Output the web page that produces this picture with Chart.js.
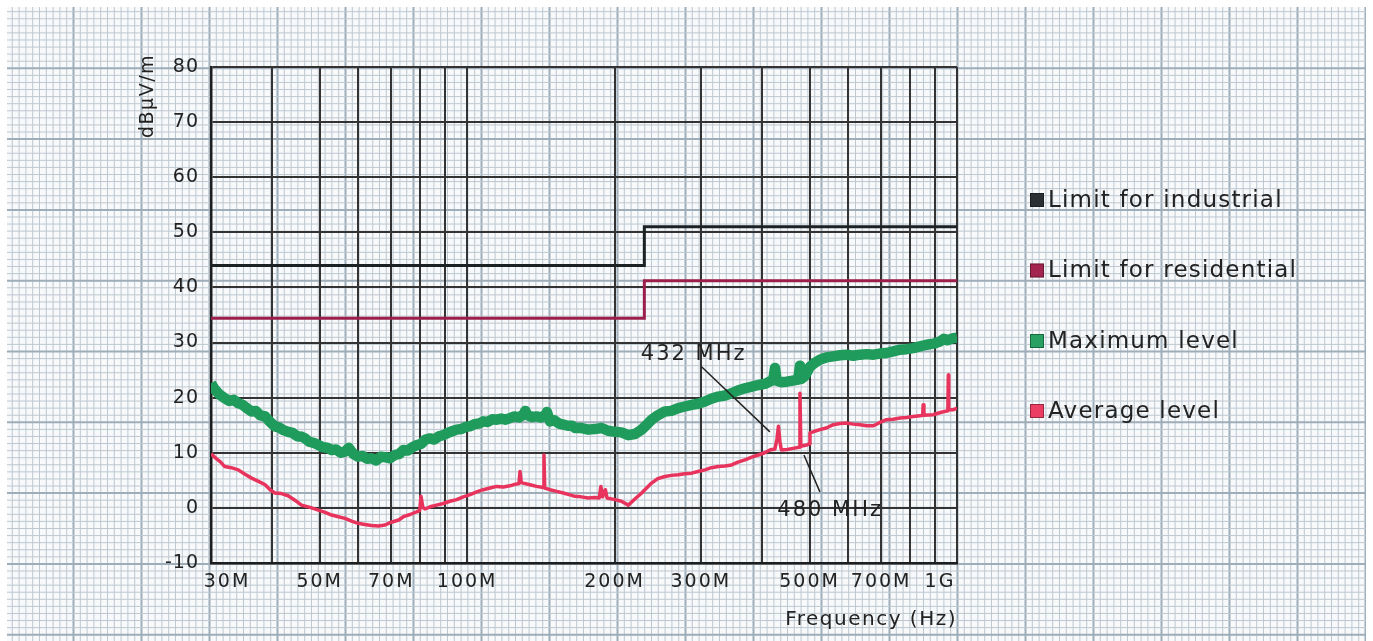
<!DOCTYPE html>
<html>
<head>
<meta charset="utf-8">
<script src="https://cdn.jsdelivr.net/npm/chart.js@4/dist/chart.umd.min.js"></script>
<style>
  html, body { margin: 0; padding: 0; background: #fff; }
  #wrap { width: 1373px; height: 641px; position: relative; }
</style>
</head>
<body>
<div id="wrap"><canvas id="emcChart"></canvas></div>
<script>
// Axis ticks
const xGridValues = [30, 40, 50, 60, 70, 80, 90, 100, 200, 300, 400, 500, 600, 700, 800, 900, 1000];
const xTickValues = [30, 50, 70, 100, 200, 300, 500, 700, 1000];
const xTickLabels = ['30M', '50M', '70M', '100M', '200M', '300M', '500M', '700M', '1G'];
const yTickValues = [-10, 0, 10, 20, 30, 40, 50, 60, 70, 80];

// Limit lines (MHz, dBµV/m)
const limitFreq = [30, 230, 230, 1000];
const industrialLimit = [44, 44, 51, 51];
const residentialLimit = [34.4, 34.4, 41.2, 41.2];

// Maximum level trace
const maxFreq = [30, 30.6, 31.2, 32.0, 32.7, 33.4, 34.1, 34.8, 35.5, 36.3, 37.0, 37.8, 38.7, 39.6, 40.5, 41.3, 42.2, 43.1, 44.0, 45.0,
  46.0, 46.7, 47.6, 48.6, 49.7, 50.8, 51.8, 52.9, 54.0, 55.2, 56.3, 57.3, 58.6, 59.9, 61.2, 62.5, 63.8, 65.2, 66.6, 68.0,
  69.6, 71.2, 72.7, 74.1, 75.7, 77.3, 78.9, 80.5, 82.2, 84.0, 85.7, 87.6, 89.4, 91.3, 93.2, 95.2, 97.3, 99.3, 101.4, 103.5,
  105.7, 107.9, 110.3, 112.6, 114.9, 117.4, 119.8, 122.3, 124.9, 127.6, 130.2, 131.5, 132.8, 135.7, 138.6, 141.5, 144.6, 145.5, 147.6, 150.7,
  154.0, 157.2, 160.5, 163.9, 166.0, 170.5, 176.8, 182.0, 188.2, 194.0, 200.4, 206.5, 213.3, 220.0, 227.1, 232.0, 238.0, 245.0, 253.4, 261.0,
  269.8, 278.0, 287.3, 296.0, 305.9, 315.0, 325.6, 336.0, 346.7, 357.0, 369.1, 381.0, 393.0, 405.0, 414.0, 421.6, 425.0, 428.5, 437.0, 449.0,
  462.0, 474.0, 478.0, 481.0, 490.0, 501.0, 512.0, 525.0, 541.0, 559.0, 577.0, 595.0, 614.0, 634.0, 654.0, 675.0, 696.0, 718.0, 741.0, 765.0,
  789.0, 814.0, 840.0, 867.0, 895.0, 923.0, 940.0, 955.0, 982.0, 1000.0];
const maxLevel = [22.6, 21.4, 20.6, 19.9, 19.4, 19.6, 19.0, 18.7, 18.1, 17.5, 17.6, 16.8, 16.6, 15.6, 14.8, 14.6, 14.1, 13.8, 13.6, 13.0,
  12.9, 12.6, 12.0, 11.8, 11.4, 11.0, 10.9, 10.5, 10.6, 10.0, 10.2, 10.9, 9.8, 9.3, 9.4, 8.9, 9.0, 8.6, 9.3, 9.2,
  9.0, 9.6, 9.8, 10.5, 10.4, 11.0, 11.4, 11.6, 12.4, 12.6, 12.4, 13.0, 13.2, 13.6, 13.9, 14.2, 14.3, 14.7, 14.8, 15.2,
  15.3, 15.7, 15.6, 16.1, 16.0, 16.2, 16.0, 16.3, 16.6, 16.4, 16.9, 17.6, 16.8, 16.5, 16.6, 16.4, 16.9, 17.4, 15.7, 15.9,
  15.3, 15.1, 14.9, 14.9, 14.5, 14.5, 14.2, 14.3, 14.5, 14.0, 13.8, 13.7, 13.2, 13.4, 14.2, 15.0, 16.0, 16.8, 17.5, 17.6,
  18.1, 18.4, 18.7, 18.9, 19.3, 19.8, 20.2, 20.4, 20.8, 21.3, 21.7, 22.0, 22.3, 22.5, 22.9, 23.2, 25.4, 23.1, 22.8, 22.9,
  23.1, 23.3, 25.8, 23.4, 24.0, 25.6, 26.3, 26.9, 27.3, 27.5, 27.7, 27.8, 27.6, 27.8, 27.9, 27.8, 28.0, 28.1, 28.4, 28.7,
  28.8, 29.0, 29.3, 29.6, 29.8, 30.2, 30.7, 30.4, 30.8, 30.9];

// Average level trace
const avgFreq = [30, 30.8, 31.4, 32.0, 33.0, 34.1, 35.2, 36.3, 37.5, 38.7, 39.6, 40.5, 41.8, 43.1, 44.5, 45.9, 47.8, 49.7, 51.3, 52.9,
  54.6, 56.3, 58.1, 59.9, 61.8, 63.8, 65.9, 68.0, 70.0, 72.5, 74.1, 76.5, 78.9, 80.0, 80.5, 81.2, 82.0, 84.0, 86.6, 89.4,
  92.2, 95.2, 98.2, 101.4, 104.6, 107.9, 111.3, 114.9, 118.5, 122.3, 125.5, 127.6, 128.2, 129.0, 130.2, 134.3, 138.6, 143.0, 143.5, 144.0,
  147.6, 152.3, 157.2, 161.5, 166.0, 171.0, 176.8, 182.0, 186.0, 187.5, 189.0, 191.5, 193.0, 200.4, 206.5, 213.3, 220.0, 227.1, 238.0, 245.0,
  253.4, 261.0, 269.8, 278.0, 287.3, 296.0, 305.9, 315.0, 325.6, 336.0, 346.7, 357.0, 369.1, 381.0, 393.0, 405.0, 415.0, 425.0, 429.0, 432.0,
  435.0, 438.0, 450.0, 463.0, 476.0, 478.0, 480.0, 493.0, 499.0, 501.0, 512.0, 525.0, 541.0, 559.0, 577.0, 595.0, 614.0, 634.0, 654.0, 675.0,
  696.0, 718.0, 741.0, 765.0, 789.0, 814.0, 840.0, 851.0, 853.0, 856.0, 894.0, 925.0, 955.0, 958.0, 960.0, 962.0, 982.0, 1000.0];
const avgLevel = [9.8, 8.9, 8.3, 7.5, 7.3, 6.9, 6.1, 5.4, 4.8, 4.2, 3.3, 2.7, 2.6, 2.2, 1.4, 0.5, 0.1, -0.4, -0.8, -1.3,
  -1.6, -1.9, -2.4, -2.8, -3.0, -3.2, -3.3, -3.1, -2.6, -2.2, -1.6, -1.2, -0.7, -0.5, 2.1, 0.1, -0.2, 0.2, 0.5, 0.8,
  1.2, 1.5, 2.0, 2.4, 2.9, 3.3, 3.6, 3.9, 3.8, 4.0, 4.3, 4.4, 6.6, 4.6, 4.5, 4.2, 3.9, 3.7, 9.6, 3.6,
  3.3, 3.0, 2.7, 2.4, 2.1, 2.0, 1.8, 1.9, 1.8, 3.9, 2.0, 3.3, 1.8, 1.5, 1.2, 0.5, 1.6, 2.7, 4.5, 5.3,
  5.7, 5.9, 6.0, 6.2, 6.3, 6.6, 6.9, 7.3, 7.5, 7.6, 7.8, 8.3, 8.7, 9.2, 9.6, 10.0, 10.5, 10.7, 12.5, 14.8,
  12.0, 10.5, 10.6, 10.8, 11.0, 20.8, 11.2, 11.4, 11.6, 13.6, 13.9, 14.2, 14.5, 15.1, 15.3, 15.4, 15.2, 15.1, 14.9, 14.9,
  15.5, 16.0, 16.1, 16.3, 16.4, 16.6, 16.7, 16.8, 18.7, 16.8, 16.9, 17.3, 17.6, 17.7, 24.1, 17.8, 17.8, 18.1];

// Marker notes
const noteLabels = ['432 MHz', '480 MHz'];
const noteTextFreq = [290, 551];
const noteTextLevel = [27.8, -0.4];
const noteFromFreq = [301, 487];
const noteFromLevel = [25.6, 9.6];
const noteToFreq = [415, 525];
const noteToLevel = [13.8, 2.9];

const toPoints = (xs, ys) => xs.map((x, i) => ({ x: x, y: ys[i] }));
const FONT = '"DejaVu Sans", sans-serif';
const INK = '#222222';

// Graph paper behind everything
const paperPlugin = {
  id: 'paper',
  beforeDraw(chart) {
    const c = chart.ctx;
    c.save();
    c.fillStyle = '#ffffff';
    c.fillRect(0, 0, chart.width, chart.height);
    c.fillStyle = '#f7f9fb';
    c.fillRect(7, 7, 1359, 634);
    c.beginPath();
    c.rect(7, 7, 1359, 634);
    c.clip();
    for (let k = 0; k < 210; k++) {
      const x = 5.5 + 6.8 * k;
      if (x > 1366) break;
      const major = k % 10 === 0;
      c.strokeStyle = major ? '#9eadb8' : '#bec8d0';
      c.lineWidth = major ? 2 : 1;
      c.beginPath(); c.moveTo(x, 7); c.lineTo(x, 641); c.stroke();
    }
    for (let k = 0; k < 100; k++) {
      const y = -2.5 + 7.08 * k;
      if (y > 641) break;
      const major = k % 10 === 0;
      c.strokeStyle = major ? '#9eadb8' : '#bec8d0';
      c.lineWidth = major ? 2 : 1;
      c.beginPath(); c.moveTo(7, y); c.lineTo(1366, y); c.stroke();
    }
    c.restore();
  }
};

// Notes with leader lines
const notesPlugin = {
  id: 'notes',
  afterDatasetsDraw(chart) {
    const c = chart.ctx, xs = chart.scales.x, ys = chart.scales.y;
    c.save();
    c.strokeStyle = INK;
    c.lineWidth = 1.5;
    c.fillStyle = INK;
    c.font = '21px ' + FONT;
    c.letterSpacing = '2px';
    c.textAlign = 'center';
    c.textBaseline = 'middle';
    noteLabels.forEach((t, i) => {
      c.beginPath();
      c.moveTo(xs.getPixelForValue(noteFromFreq[i]), ys.getPixelForValue(noteFromLevel[i]));
      c.lineTo(xs.getPixelForValue(noteToFreq[i]), ys.getPixelForValue(noteToLevel[i]));
      c.stroke();
      c.fillText(t, xs.getPixelForValue(noteTextFreq[i]), ys.getPixelForValue(noteTextLevel[i]));
    });
    c.restore();
  }
};

// Axis labels, titles and legend
const labelsPlugin = {
  id: 'labels',
  afterDraw(chart) {
    const c = chart.ctx, xs = chart.scales.x, ys = chart.scales.y, area = chart.chartArea;
    c.save();
    c.fillStyle = INK;
    c.textBaseline = 'middle';

    c.font = '19px ' + FONT;
    c.letterSpacing = '1px';
    c.textAlign = 'right';
    yTickValues.forEach(v => {
      c.fillText(String(v), 199, ys.getPixelForValue(v));
    });

    c.font = '19px ' + FONT;
    c.letterSpacing = '2px';
    c.textAlign = 'center';
    xTickValues.forEach((v, i) => {
      let x = xs.getPixelForValue(v);
      if (i === 0) x += 16;
      if (i === xTickValues.length - 1) x -= 17;
      c.fillText(xTickLabels[i], x, 582);
    });

    c.font = '20px ' + FONT;
    c.letterSpacing = '1.5px';
    c.textAlign = 'right';
    c.fillText('Frequency (Hz)', area.right, 620);

    c.save();
    c.translate(148, 96);
    c.rotate(-Math.PI / 2);
    c.textAlign = 'center';
    c.font = '19px ' + FONT;
    c.letterSpacing = '1.5px';
    c.fillText('dBµV/m', 0, 0);
    c.restore();

    const rows = [200, 270.5, 341, 411];
    c.font = '23px ' + FONT;
    c.letterSpacing = '1.2px';
    c.textAlign = 'left';
    chart.data.datasets.forEach((ds, i) => {
      c.fillStyle = ds.legendColor;
      c.fillRect(1030, rows[i] - 7, 14, 14);
      c.strokeStyle = 'rgba(0,0,0,0.35)';
      c.lineWidth = 1;
      c.strokeRect(1030.5, rows[i] - 6.5, 13, 13);
      c.fillStyle = INK;
      c.fillText(ds.label, 1048, rows[i] + 1);
    });
    c.restore();
  }
};

const ctx = document.getElementById('emcChart').getContext('2d');
const emcChart = new Chart(ctx, {
  type: 'line',
  data: {
    datasets: [
      {
        label: 'Limit for industrial',
        data: toPoints(limitFreq, industrialLimit),
        borderColor: '#1c2124',
        legendColor: '#2a2f33',
        borderWidth: 3,
        pointRadius: 0
      },
      {
        label: 'Limit for residential',
        data: toPoints(limitFreq, residentialLimit),
        borderColor: '#9c1f4b',
        legendColor: '#a3244e',
        borderWidth: 3,
        pointRadius: 0
      },
      {
        label: 'Maximum level',
        data: toPoints(maxFreq, maxLevel),
        borderColor: '#1f9c5c',
        legendColor: '#27a062',
        borderWidth: 10.5,
        borderJoinStyle: 'round',
        pointRadius: 0
      },
      {
        label: 'Average level',
        data: toPoints(avgFreq, avgLevel),
        borderColor: '#e8335c',
        legendColor: '#ec3d63',
        borderWidth: 3.5,
        borderJoinStyle: 'round',
        pointRadius: 0
      }
    ]
  },
  options: {
    responsive: true,
    maintainAspectRatio: false,
    animation: false,
    layout: { padding: { left: 0, right: 416, top: 67, bottom: 0 } },
    plugins: { legend: { display: false }, tooltip: { enabled: false } },
    scales: {
      x: {
        type: 'logarithmic',
        min: 30,
        max: 1000,
        afterBuildTicks: s => { s.ticks = xGridValues.map(v => ({ value: v })); },
        afterFit: s => { s.height = 78; },
        ticks: { display: false },
        grid: { color: '#333333', lineWidth: 2, drawTicks: false },
        border: { color: '#1e1e1e', width: 2.5 }
      },
      y: {
        type: 'linear',
        min: -10,
        max: 80,
        afterBuildTicks: s => { s.ticks = yTickValues.map(v => ({ value: v })); },
        afterFit: s => { s.width = 211; },
        ticks: { display: false },
        grid: { color: '#333333', lineWidth: 2, drawTicks: false },
        border: { color: '#1e1e1e', width: 2.5 }
      }
    }
  },
  plugins: [paperPlugin, notesPlugin, labelsPlugin]
});
</script>
</body>
</html>
